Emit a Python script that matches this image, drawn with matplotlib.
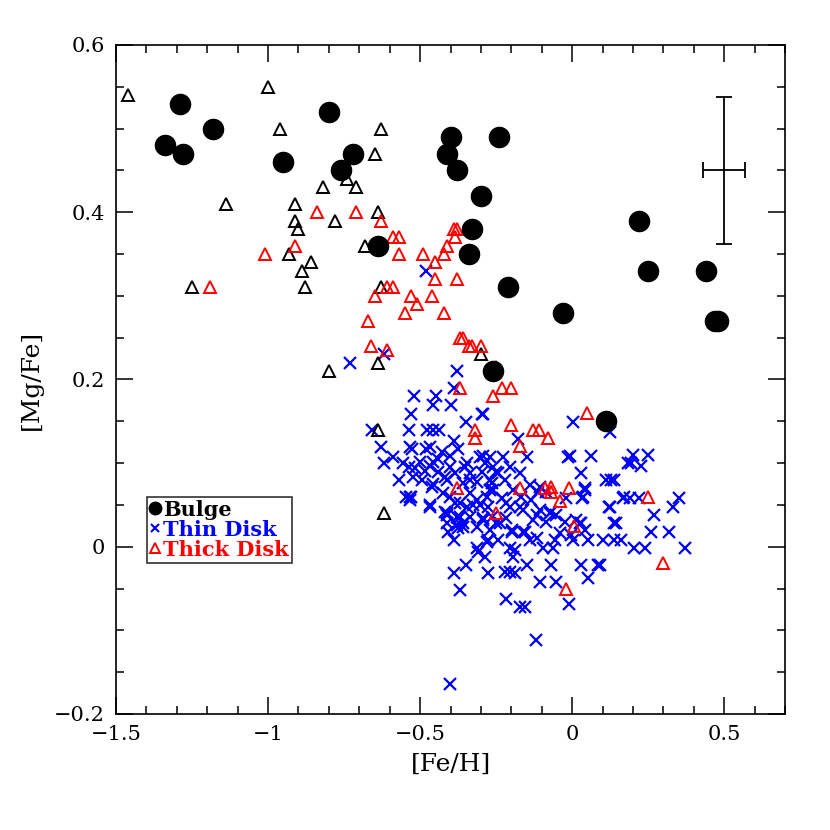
import numpy as np
import matplotlib
matplotlib.use("Agg")
import matplotlib.pyplot as plt
from matplotlib.lines import Line2D
from matplotlib.ticker import MultipleLocator, FuncFormatter

plt.rcParams['font.family'] = ['DejaVu Serif']

# [Fe/H], [Mg/Fe] pairs
bulge = np.array([
    (-1.34, 0.48), (-1.29, 0.53), (-1.28, 0.47), (-1.18, 0.50), (-0.95, 0.46),
    (-0.80, 0.52), (-0.72, 0.47), (-0.76, 0.45), (-0.64, 0.36), (-0.40, 0.49),
    (-0.41, 0.47), (-0.38, 0.45), (-0.30, 0.42), (-0.33, 0.38), (-0.34, 0.35),
    (-0.21, 0.31), (-0.24, 0.49), (-0.26, 0.21), (-0.03, 0.28), (0.11, 0.15),
    (0.22, 0.39), (0.25, 0.33), (0.44, 0.33), (0.47, 0.27), (0.48, 0.27),
])

other_thick = np.array([
    (-1.46, 0.54), (-1.00, 0.55), (-0.96, 0.50), (-0.63, 0.50), (-0.65, 0.47),
    (-0.74, 0.44), (-0.82, 0.43), (-0.71, 0.43), (-1.14, 0.41), (-0.91, 0.41),
    (-0.64, 0.40), (-0.91, 0.39), (-0.78, 0.39), (-0.90, 0.38), (-0.68, 0.36),
    (-0.93, 0.35), (-0.86, 0.34), (-0.89, 0.33), (-1.25, 0.31), (-0.88, 0.31),
    (-0.63, 0.31), (-0.30, 0.23), (-0.64, 0.22), (-0.80, 0.21), (-0.64, 0.14),
    (-0.62, 0.04),
])

thick_disk = np.array([
    (-0.84, 0.40), (-0.71, 0.40), (-0.63, 0.39), (-0.91, 0.36), (-1.01, 0.35),
    (-1.19, 0.31), (-0.65, 0.30), (-0.59, 0.37), (-0.57, 0.37), (-0.57, 0.35),
    (-0.49, 0.35), (-0.39, 0.38), (-0.38, 0.38), (-0.385, 0.37), (-0.41, 0.36),
    (-0.42, 0.35), (-0.45, 0.34), (-0.45, 0.32), (-0.38, 0.32), (-0.61, 0.31),
    (-0.59, 0.31), (-0.53, 0.30), (-0.46, 0.30), (-0.51, 0.29), (-0.55, 0.28),
    (-0.42, 0.28), (-0.67, 0.27), (-0.37, 0.25), (-0.36, 0.25), (-0.34, 0.24),
    (-0.33, 0.24), (-0.30, 0.24), (-0.66, 0.24), (-0.61, 0.235), (-0.37, 0.19),
    (-0.23, 0.19), (-0.20, 0.19), (-0.26, 0.18), (-0.25, 0.215), (-0.32, 0.14),
    (-0.32, 0.13), (-0.38, 0.07), (-0.25, 0.04), (0.05, 0.16), (-0.20, 0.146),
    (-0.13, 0.14), (-0.11, 0.14), (-0.08, 0.13), (-0.17, 0.12), (-0.17, 0.07),
    (-0.09, 0.07), (-0.068, 0.071), (-0.068, 0.065), (-0.01, 0.07), (-0.04, 0.055),
    (0.006, 0.025), (0.25, 0.06), (0.30, -0.02), (-0.02, -0.05),
])

thin_disk = np.array([
    (-0.48, 0.33), (-0.73, 0.22), (-0.62, 0.23), (-0.38, 0.21), (-0.39, 0.19),
    (-0.52, 0.18), (-0.449, 0.18), (-0.458, 0.17), (-0.40, 0.17), (-0.53, 0.159),
    (-0.298, 0.159), (-0.349, 0.149), (-0.658, 0.139), (-0.538, 0.139), (-0.478, 0.139),
    (-0.458, 0.139), (-0.437, 0.139), (-0.389, 0.127), (-0.629, 0.119), (-0.533, 0.119),
    (-0.527, 0.117), (-0.48, 0.117), (-0.374, 0.117), (-0.292, 0.109), (-0.588, 0.107),
    (-0.62, 0.10), (-0.44, 0.105), (-0.555, 0.10), (-0.516, 0.094), (-0.467, 0.097),
    (-0.402, 0.095), (-0.352, 0.095), (-0.571, 0.08), (-0.494, 0.08), (-0.456, 0.075),
    (-0.418, 0.083), (-0.336, 0.08), (-0.27, 0.08), (-0.545, 0.06), (-0.53, 0.06),
    (-0.467, 0.05), (-0.402, 0.06), (-0.369, 0.052), (-0.314, 0.056), (-0.27, 0.068),
    (-0.412, 0.04), (-0.369, 0.035), (-0.292, 0.032), (-0.38, 0.026), (-0.249, 0.028),
    (-0.467, 0.119), (-0.429, 0.113), (-0.402, 0.109), (-0.303, 0.107), (-0.27, 0.107),
    (-0.287, 0.10), (-0.347, 0.10), (-0.456, 0.101), (-0.50, 0.101), (-0.538, 0.095),
    (-0.484, 0.091), (-0.44, 0.089), (-0.385, 0.088), (-0.336, 0.088), (-0.298, 0.089),
    (-0.249, 0.089), (-0.522, 0.083), (-0.412, 0.08), (-0.358, 0.076), (-0.314, 0.077),
    (-0.265, 0.076), (-0.462, 0.071), (-0.424, 0.064), (-0.533, 0.06), (-0.336, 0.064),
    (-0.281, 0.06), (-0.385, 0.052), (-0.347, 0.047), (-0.303, 0.05), (-0.38, 0.035),
    (-0.336, 0.035), (-0.292, 0.034), (-0.265, 0.035), (-0.412, 0.028), (-0.358, 0.024),
    (-0.314, 0.024), (-0.227, 0.107), (-0.15, 0.107), (-0.014, 0.107), (-0.26, 0.095),
    (-0.205, 0.095), (-0.243, 0.088), (-0.172, 0.088), (-0.221, 0.08), (-0.139, 0.074),
    (-0.107, 0.071), (-0.26, 0.068), (-0.194, 0.068), (-0.112, 0.065), (-0.232, 0.058),
    (-0.167, 0.06), (-0.134, 0.056), (-0.085, 0.065), (-0.276, 0.047), (-0.205, 0.047),
    (-0.161, 0.044), (-0.107, 0.044), (-0.068, 0.041), (-0.052, 0.038), (-0.216, 0.034),
    (-0.129, 0.032), (-0.085, 0.03), (-0.025, 0.03), (-0.27, 0.02), (-0.199, 0.02),
    (-0.156, 0.018), (-0.041, 0.016), (0.014, 0.032), (-0.003, 0.014), (-0.294, 0.159),
    (0.003, 0.149), (0.123, 0.137), (-0.178, 0.129), (-0.008, 0.108), (0.063, 0.108),
    (0.183, 0.10), (0.03, 0.088), (0.112, 0.08), (0.128, 0.08), (0.139, 0.08),
    (0.041, 0.068), (0.035, 0.06), (0.172, 0.06), (0.123, 0.048), (0.139, 0.028),
    (0.025, 0.028), (0.20, 0.11), (0.249, 0.11), (0.194, 0.10), (0.227, 0.097),
    (0.041, 0.07), (0.033, 0.058), (-0.019, 0.058), (0.167, 0.058), (0.189, 0.058),
    (0.221, 0.058), (0.121, 0.048), (0.352, 0.058), (0.33, 0.048), (0.27, 0.038),
    (0.143, 0.028), (0.26, 0.018), (0.32, 0.018), (0.03, 0.028), (0.041, 0.02),
    (0.003, 0.008), (0.052, 0.008), (0.101, 0.008), (0.139, 0.008), (0.161, 0.008),
    (0.202, -0.002), (0.241, -0.002), (0.372, -0.002), (0.03, -0.022), (0.09, -0.022),
    (0.052, -0.038), (-0.467, 0.047), (-0.412, 0.038), (-0.358, 0.028), (-0.407, 0.018),
    (-0.374, 0.022), (-0.39, 0.008), (-0.238, 0.028), (-0.276, 0.008), (-0.243, 0.008),
    (-0.314, -0.002), (-0.287, -0.012), (-0.205, -0.002), (-0.189, -0.004), (-0.194, -0.012),
    (-0.205, -0.03), (-0.189, -0.032), (-0.221, -0.03), (-0.39, -0.032), (-0.349, -0.022),
    (-0.278, -0.032), (-0.15, -0.022), (-0.107, -0.042), (-0.052, -0.042), (-0.369, -0.052),
    (-0.218, -0.062), (-0.172, -0.072), (-0.156, -0.072), (-0.01, -0.068), (-0.12, -0.112),
    (-0.402, -0.164), (-0.533, 0.056), (-0.418, 0.041), (-0.326, 0.05), (-0.216, 0.052),
    (-0.172, 0.047), (-0.117, 0.038), (-0.074, 0.04), (-0.161, 0.018), (-0.139, 0.008),
    (-0.117, 0.01), (-0.096, -0.002), (-0.063, -0.002), (-0.057, 0.008), (-0.068, -0.022),
    (0.085, -0.022), (-0.309, -0.006), (-0.281, 0.006), (-0.199, 0.018),
])

# typical error bar
err_feh, err_mgfe = 0.50, 0.45
err_x, err_y = 0.07, 0.088

fig = plt.figure(figsize=(8.3, 8.3), dpi=100)
ax = fig.add_axes([0.1398, 0.1398, 0.806, 0.806])

ax.plot(thin_disk[:, 0], thin_disk[:, 1], 'x', color='blue', ms=8, mew=1.6, zorder=2)
ax.plot(other_thick[:, 0], other_thick[:, 1], '^', mfc='none', mec='black', ms=9, mew=1.4, zorder=3)
ax.plot(thick_disk[:, 0], thick_disk[:, 1], '^', mfc='none', mec='red', ms=9, mew=1.4, zorder=3)
ax.plot(bulge[:, 0], bulge[:, 1], 'o', color='black', ms=14.5, zorder=4)

ax.errorbar(err_feh, err_mgfe, xerr=err_x, yerr=err_y, color='black', lw=1.3,
            capsize=6, capthick=1.3, fmt='none')

ax.set_xlim(-1.5, 0.7)
ax.set_ylim(-0.2, 0.6)
ax.xaxis.set_major_locator(MultipleLocator(0.5))
ax.xaxis.set_minor_locator(MultipleLocator(0.1))
ax.yaxis.set_major_locator(MultipleLocator(0.2))
ax.yaxis.set_minor_locator(MultipleLocator(0.05))

fmt = FuncFormatter(lambda v, p: ('%g' % round(v, 3)).replace('-', '\u2212'))
ax.xaxis.set_major_formatter(fmt)
ax.yaxis.set_major_formatter(fmt)
ax.tick_params(which='both', direction='in', top=True, right=True, labelsize=15, width=1.1)
ax.tick_params(which='major', length=12, pad=8)
ax.tick_params(which='minor', length=6)
for s in ax.spines.values():
    s.set_linewidth(1.2)

ax.set_xlabel('[Fe/H]', fontsize=18, labelpad=6)
ax.set_ylabel('[Mg/Fe]', fontsize=18, labelpad=8)

handles = [
    Line2D([], [], ls='none', marker='o', color='black', ms=9),
    Line2D([], [], ls='none', marker='x', color='blue', ms=6, mew=1.5),
    Line2D([], [], ls='none', marker='^', mfc='none', mec='red', ms=7, mew=1.4),
]
leg = ax.legend(handles, ['Bulge', 'Thin Disk', 'Thick Disk'], loc='lower left',
                bbox_to_anchor=(0.046, 0.226), prop={'size': 15, 'weight': 'bold'},
                frameon=True, fancybox=False,
                edgecolor='black', handlelength=0.5, handletextpad=0.15, borderpad=0.15,
                labelspacing=0.0, borderaxespad=0, labelcolor=['black', 'blue', 'red'])
leg.get_frame().set_linewidth(1.2)

fig.savefig('out.png', dpi=100)
